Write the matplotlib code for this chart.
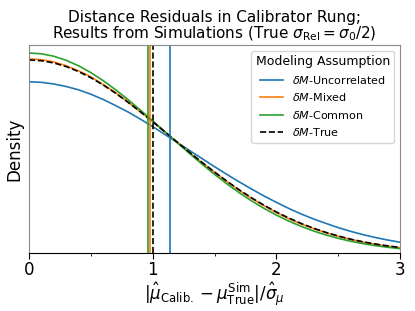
import numpy as np
import matplotlib.pyplot as plt

# residual grid and densities
x = np.round(np.arange(0, 3.01, 0.1), 2)

dens_uncorr = [0.621, 0.619, 0.613, 0.604, 0.592, 0.576, 0.557, 0.535, 0.512, 0.486,
               0.459, 0.430, 0.401, 0.372, 0.343, 0.314, 0.286, 0.259, 0.233, 0.208,
               0.185, 0.163, 0.143, 0.125, 0.109, 0.0936, 0.0802, 0.0683, 0.0578, 0.0487, 0.0407]
dens_mixed = [0.704, 0.701, 0.693, 0.679, 0.661, 0.639, 0.611, 0.582, 0.548, 0.513,
              0.477, 0.439, 0.402, 0.364, 0.328, 0.294, 0.260, 0.228, 0.199, 0.173,
              0.148, 0.126, 0.107, 0.0904, 0.0753, 0.0622, 0.0509, 0.0414, 0.0333, 0.0265, 0.0209]
dens_common = [0.725, 0.7223, 0.7134, 0.6988, 0.6789, 0.6541, 0.6250, 0.5924, 0.5567, 0.5190,
               0.4798, 0.4399, 0.4000, 0.3608, 0.3227, 0.2862, 0.2518, 0.2197, 0.1901, 0.1632,
               0.1389, 0.1172, 0.0982, 0.0815, 0.0671, 0.0548, 0.0444, 0.0357, 0.0284, 0.0225, 0.0176]
dens_true = [0.700, 0.6972, 0.6892, 0.6761, 0.6581, 0.6357, 0.6094, 0.5797, 0.5472, 0.5125,
             0.4764, 0.4394, 0.4022, 0.3653, 0.3293, 0.2945, 0.2614, 0.2302, 0.2012, 0.1745,
             0.1502, 0.1283, 0.1087, 0.0914, 0.0763, 0.0632, 0.0519, 0.0424, 0.0343, 0.0275, 0.0219]

# vertical marker positions
vline_uncorr = 1.143
vline_mixed = 0.980
vline_common = 0.962
vline_true = 0.999

labels = [r'$\delta M$-Uncorrelated', r'$\delta M$-Mixed', r'$\delta M$-Common', r'$\delta M$-True']

fig = plt.figure(figsize=(4.15, 3.11), dpi=100)
ax = fig.add_axes([0.0699, 0.1849, 0.894, 0.6704])

ax.plot(x, dens_uncorr, color='C0', lw=1.2, label=labels[0])
ax.plot(x, dens_mixed, color='C1', lw=1.2, label=labels[1])
ax.plot(x, dens_common, color='C2', lw=1.2, label=labels[2])
ax.plot(x, dens_true, color='k', lw=1.2, ls='--', label=labels[3])

ax.axvline(vline_uncorr, color='C0', lw=1.2)
ax.axvline(vline_mixed, color='C1', lw=1.2)
ax.axvline(vline_common, color='C2', lw=1.2)
ax.axvline(vline_true, color='k', lw=1.2, ls='--')

ax.set_xlim(0, 3)
ax.set_ylim(0, 0.754)
ax.set_xticks([0, 1, 2, 3])
ax.set_xticks([0.5, 1.5, 2.5], minor=True)
ax.set_yticks([])
ax.tick_params(axis='x', labelsize=12, length=4, width=0.8, pad=1.5)
ax.tick_params(axis='x', which='minor', length=2.5, width=0.6)

for side in ['top', 'left', 'right']:
    ax.spines[side].set_color('#888888')
ax.spines['bottom'].set_color('black')

ax.set_ylabel('Density', fontsize=12)
ax.set_xlabel(r'$|\hat{\mu}_{\rm Calib.} - \mu_{\rm True}^{\rm Sim}|/\hat{\sigma}_{\mu}$',
              fontsize=12, labelpad=1)
ax.set_title('Distance Residuals in Calibrator Rung;\n'
             r'Results from Simulations (True $\sigma_{\rm Rel} = \sigma_0/2$)',
             fontsize=11, linespacing=0.95, pad=5)

leg = ax.legend(title='Modeling Assumption', fontsize=8, title_fontsize=9, loc='upper right')

fig.savefig('out.png', dpi=100)
